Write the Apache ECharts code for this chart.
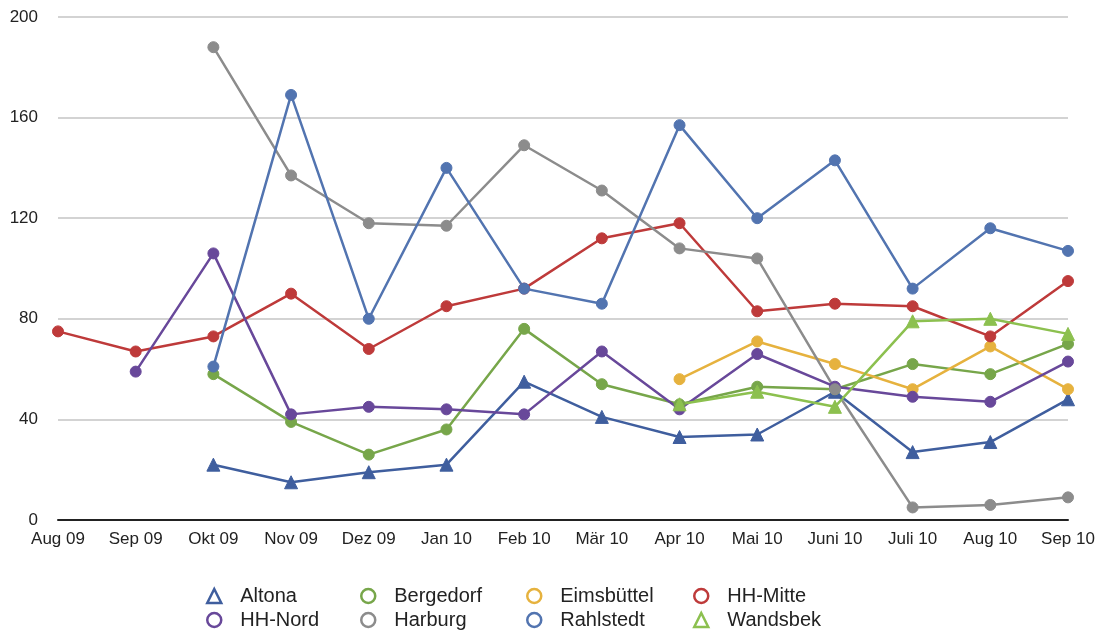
<!DOCTYPE html>
<html>
<head>
<meta charset="utf-8">
<script src="https://cdn.jsdelivr.net/npm/echarts@6/dist/echarts.min.js"></script>
<style>
  html, body { margin: 0; padding: 0; background: #fff; }
  #chart { width: 1099px; height: 630px; }
</style>
</head>
<body>
<div id="chart"></div>
<script>
// Monthly counts per Hamburg district, Aug 2009 – Sep 2010
const months = ['Aug 09', 'Sep 09', 'Okt 09', 'Nov 09', 'Dez 09', 'Jan 10', 'Feb 10',
                'Mär 10', 'Apr 10', 'Mai 10', 'Juni 10', 'Juli 10', 'Aug 10', 'Sep 10'];
const yTicks = [0, 40, 80, 120, 160, 200];

const altona     = [null, null, 22, 15, 19, 22, 55, 41, 33, 34, 51, 27, 31, 48];
const bergedorf  = [null, null, 58, 39, 26, 36, 76, 54, 46, 53, 52, 62, 58, 70];
const eimsbuettel= [null, null, null, null, null, null, null, null, 56, 71, 62, 52, 69, 52];
const hhMitte    = [75, 67, 73, 90, 68, 85, 92, 112, 118, 83, 86, 85, 73, 95];
const hhNord     = [null, 59, 106, 42, 45, 44, 42, 67, 44, 66, 53, 49, 47, 63];
const harburg    = [null, null, 188, 137, 118, 117, 149, 131, 108, 104, 52, 5, 6, 9];
const rahlstedt  = [null, null, 61, 169, 80, 140, 92, 86, 157, 120, 143, 92, 116, 107];
const wandsbek   = [null, null, null, null, null, null, null, null, 46, 51, 45, 79, 80, 74];

const seriesDefs = [
  { name: 'Altona',     data: altona,      color: '#3f5e9e', symbol: 'triangle', size: 13 },
  { name: 'Bergedorf',  data: bergedorf,   color: '#77a64a', symbol: 'circle',   size: 11 },
  { name: 'Eimsbüttel', data: eimsbuettel, color: '#e6b23e', symbol: 'circle',   size: 11 },
  { name: 'HH-Mitte',   data: hhMitte,     color: '#be3a3a', symbol: 'circle',   size: 11 },
  { name: 'HH-Nord',    data: hhNord,      color: '#68489a', symbol: 'circle',   size: 11 },
  { name: 'Harburg',    data: harburg,     color: '#8c8c8c', symbol: 'circle',   size: 11 },
  { name: 'Rahlstedt',  data: rahlstedt,   color: '#5274b0', symbol: 'circle',   size: 11 },
  { name: 'Wandsbek',   data: wandsbek,    color: '#8cc04f', symbol: 'triangle', size: 13 }
];

const font = '"Liberation Sans", Arial, sans-serif';

// legend laid out as a 4 x 2 table below the plot
const legendCols = [206, 360, 526, 693];
const legendRows = [586, 610];
const legends = seriesDefs.map((s, i) => ({
  data: [{ name: s.name, icon: s.symbol }],
  left: legendCols[i % 4],
  top: legendRows[Math.floor(i / 4)],
  itemWidth: 14,
  itemHeight: 14,
  padding: 0,
  selectedMode: false,
  itemStyle: { color: '#fff', borderColor: s.color, borderWidth: 2.5 },
  textStyle: { fontFamily: font, fontSize: 20, color: '#222', padding: [0, 0, 0, 14] }
}));

const option = {
  backgroundColor: '#fff',
  animation: false,
  grid: { left: 58, right: 31, top: 17, bottom: 110, containLabel: false },
  legend: legends,
  xAxis: {
    type: 'category',
    data: months,
    boundaryGap: false,
    axisLine: { lineStyle: { color: '#222', width: 2 } },
    axisTick: { show: false },
    axisLabel: { fontFamily: font, fontSize: 17, color: '#222', margin: 11, interval: 0 }
  },
  yAxis: {
    type: 'value',
    min: yTicks[0],
    max: yTicks[yTicks.length - 1],
    interval: yTicks[1] - yTicks[0],
    axisLine: { show: false },
    axisTick: { show: false },
    axisLabel: { fontFamily: font, fontSize: 17, color: '#222', margin: 20 },
    splitLine: { lineStyle: { color: '#c4c4c4', width: 1.5 } }
  },
  series: seriesDefs.map(s => ({
    name: s.name,
    type: 'line',
    data: s.data,
    connectNulls: false,
    symbol: s.symbol,
    symbolSize: s.size,
    showSymbol: true,
    lineStyle: { color: s.color, width: 2.5 },
    itemStyle: { color: s.color, borderColor: s.color },
    emphasis: { disabled: true }
  }))
};

const chart = echarts.init(document.getElementById('chart'), null, { renderer: 'canvas' });
chart.setOption(option);
</script>
</body>
</html>
